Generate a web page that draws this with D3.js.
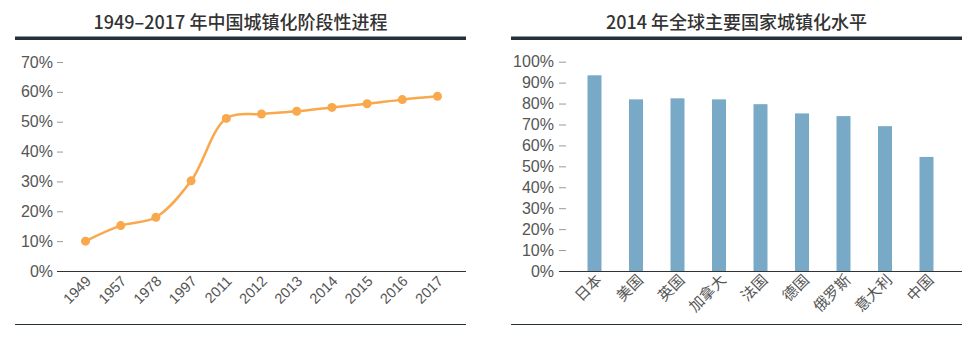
<!DOCTYPE html>
<html><head><meta charset="utf-8">
<script src="https://cdn.jsdelivr.net/npm/d3@7"></script>
<style>
body{margin:0;background:#fff;}
svg{display:block;font-family:"Liberation Sans","Noto Sans CJK SC",sans-serif;}
</style></head>
<body><svg id="c" width="976" height="356"></svg>
<script>
const title1 = "1949–2017 年中国城镇化阶段性进程";
const years = ["1949","1957","1978","1997","2011","2012","2013","2014","2015","2016","2017"];
const urbanRate = [10.0,15.2,18.0,30.2,51.1,52.6,53.5,54.8,56.0,57.4,58.5];
const yTicks1 = [0,10,20,30,40,50,60,70];

const title2 = "2014 年全球主要国家城镇化水平";
const countries = ["日本","美国","英国","加拿大","法国","德国","俄罗斯","意大利","中国"];
const countryRate = [93.5,82.0,82.5,82.0,79.7,75.3,74.0,69.2,54.5];
const yTicks2 = [0,10,20,30,40,50,60,70,80,90,100];

const svg = d3.select("#c");
const textCol = "#555";
const CJK = "'Noto Sans CJK SC',sans-serif";
const LAT = "'Liberation Sans',sans-serif";

function frame(x0, x1, title){
  svg.append("text").attr("x",(x0+x1)/2).attr("y",29).attr("text-anchor","middle")
    .attr("font-family","'Noto Sans CJK SC',sans-serif").attr("font-size",18).attr("font-weight",500).attr("fill","#333").text(title);
  svg.append("rect").attr("x",x0).attr("y",36.5).attr("width",x1-x0).attr("height",3.5).attr("fill","#243139");
  svg.append("line").attr("x1",x0).attr("x2",x1).attr("y1",324.5).attr("y2",324.5).attr("stroke","#243139").attr("stroke-width",1);
}

// ---- Chart 1
frame(15,466,title1);
const x1 = d3.scalePoint().domain(years).range([57,466]).padding(0.81);
const y1 = d3.scaleLinear().domain([0,70]).range([271,62]);
const gy1 = svg.append("g").attr("transform","translate(63,0)")
  .call(d3.axisLeft(y1).tickValues(yTicks1).tickFormat(d=>d+"%").tickSize(6).tickPadding(4));
gy1.attr("font-family",LAT).attr("font-size",16);
gy1.select(".domain").remove();
gy1.selectAll(".tick line").attr("stroke","#999");
gy1.selectAll(".tick text").attr("fill",textCol);
gy1.selectAll(".tick").filter(d=>d===0).select("line").remove();
const gx1 = svg.append("g").attr("transform","translate(0,271)").call(d3.axisBottom(x1).tickSize(0));
gx1.attr("font-family",LAT).attr("font-size",14.5);
gx1.select(".domain").attr("d","M57,0.5H466").attr("stroke","#333");
gx1.selectAll(".tick text").attr("fill",textCol)
  .attr("text-anchor","end").attr("dy",0).attr("y",0)
  .attr("transform","translate(6,11) rotate(-45)");
const line = d3.line().x((d,i)=>x1(years[i])).y(d=>y1(d)).curve(d3.curveCatmullRom.alpha(0.5));
svg.append("path").datum(urbanRate).attr("d",line).attr("fill","none").attr("stroke","#f9a84c").attr("stroke-width",2.5);
svg.selectAll(".pt").data(urbanRate).enter().append("circle")
  .attr("cx",(d,i)=>x1(years[i])).attr("cy",d=>y1(d)).attr("r",4.5).attr("fill","#f9a84c");

// ---- Chart 2
frame(511,962,title2);
const x2 = d3.scaleBand().domain(countries).range([559,962]).paddingInner(0.663).paddingOuter(0.687);
const y2 = d3.scaleLinear().domain([0,100]).range([271,61.7]);
const gy2 = svg.append("g").attr("transform","translate(566,0)")
  .call(d3.axisLeft(y2).tickValues(yTicks2).tickFormat(d=>d+"%").tickSize(7).tickPadding(5));
gy2.attr("font-family",LAT).attr("font-size",16);
gy2.select(".domain").remove();
gy2.selectAll(".tick line").attr("stroke","#999");
gy2.selectAll(".tick text").attr("fill",textCol);
gy2.selectAll(".tick").filter(d=>d===0).select("line").remove();
svg.selectAll(".bar").data(countryRate).enter().append("rect")
  .attr("x",(d,i)=>x2(countries[i])).attr("width",x2.bandwidth())
  .attr("y",d=>y2(d)).attr("height",d=>271-y2(d)).attr("fill","#78a9c6");
const gx2 = svg.append("g").attr("transform","translate(0,271)").call(d3.axisBottom(x2).tickSize(0));
gx2.attr("font-family",CJK).attr("font-size",15);
gx2.select(".domain").attr("d","M559,0.5H962").attr("stroke","#333");
gx2.selectAll(".tick text").attr("fill",textCol)
  .attr("text-anchor","end").attr("dy",0).attr("y",0)
  .attr("transform","translate(8,10) rotate(-45)");
</script></body></html>
